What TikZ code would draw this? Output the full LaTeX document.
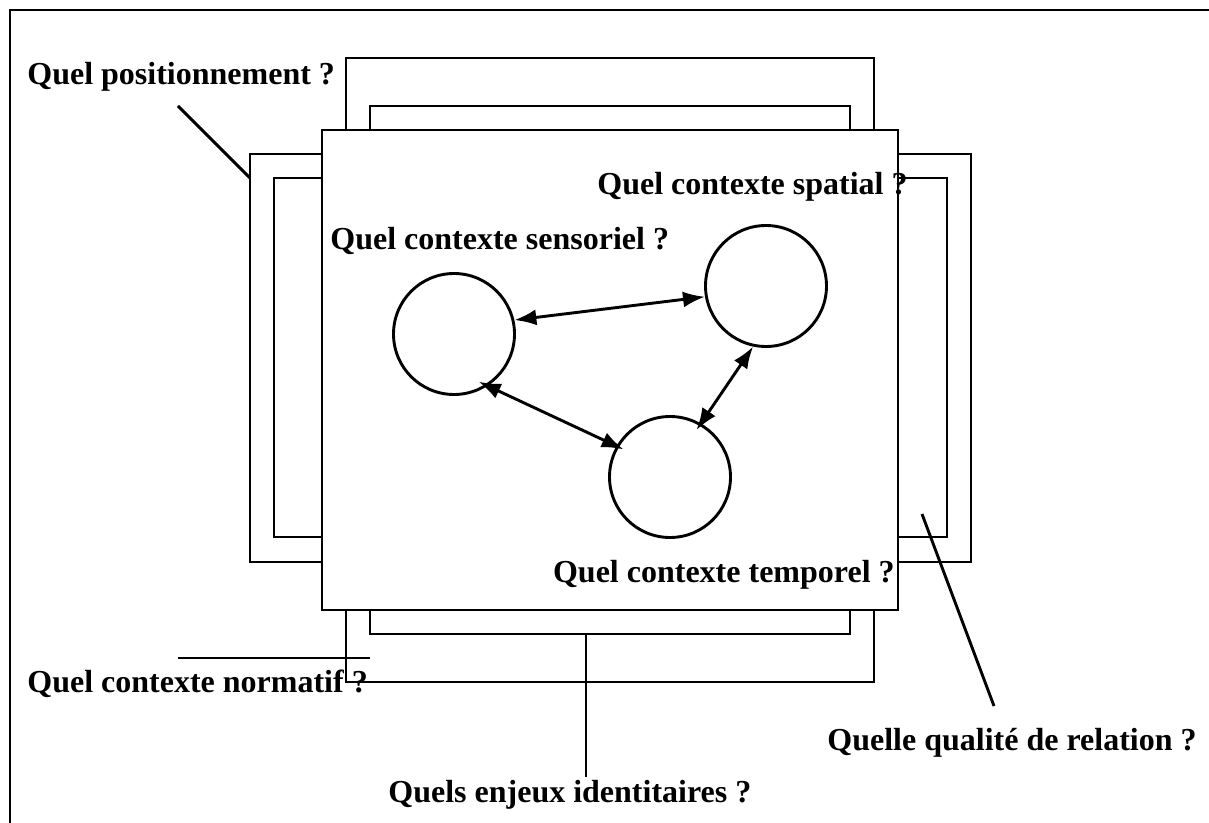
\documentclass[tikz,border=0pt]{standalone}
\usepackage{fontspec}
\setmainfont{Liberation Serif}
\usetikzlibrary{arrows.meta,calc}
\begin{document}
\begin{tikzpicture}[x=0.5pt,y=-0.5pt,
  line/.style={line width=1.45pt},
  lbl/.style={font=\bfseries\fontsize{16}{19}\selectfont, inner sep=0pt},
  ctx/.style={circle, draw, line width=1.45pt, minimum size=60.5pt, inner sep=0pt},
  dbl/.style={line width=1.45pt, {Latex[length=11pt,width=8pt]}-{Latex[length=11pt,width=8pt]}}]
\useasboundingbox (0,0) rectangle (1209,823);
% frame
\draw[line] (10,823) -- (10,10) -- (1209,10);
% frames behind the main square
\draw[line] (346,58) rectangle (874,682);
\draw[line] (370,106) rectangle (850,634);
\draw[line] (250,154) rectangle (971,562);
\draw[line] (274,178) rectangle (947,537);
% main square
\draw[line, fill=white] (322,130) rectangle (898,610);
% circles
\node[ctx] (L) at (454,334) {};
\node[ctx] (TR) at (766,286) {};
\node[ctx] (B) at (670,477) {};
% arrows
\draw[dbl] (L.13) -- (TR.190);
\draw[dbl, shorten <=-5pt, shorten >=-4pt] (L.-57) -- (B.150);
\draw[dbl, shorten >=-4pt] (TR.-102) -- (B.60);
% labels
\node[lbl, anchor=base west] (tpos) at (27,85) {Quel positionnement ?};
\node[lbl, anchor=base east] (tspa) at (908,195) {Quel contexte spatial ?};
\node[lbl, anchor=base west] (tsen) at (330,250) {Quel contexte sensoriel ?};
\node[lbl, anchor=base east] (ttem) at (895,582) {Quel contexte temporel ?};
\node[lbl, anchor=base west] (tnor) at (27,692) {Quel contexte normatif ?};
\node[lbl, anchor=base west] (tide) at (388,802) {Quels enjeux identitaires ?};
\node[lbl, anchor=base east] (trel) at (1197,750) {Quelle qualité de relation ?};
% leader lines
\coordinate (posA) at (178,106);
\coordinate (posB) at (250,178);
\coordinate (norA) at (178,658);
\coordinate (norB) at (370,658);
\coordinate (ideA) at (586,634);
\coordinate (ideB) at (586,777);
\coordinate (relA) at (922,514);
\coordinate (relB) at (994,706);
\draw[line] (posA) -- (posB);
\draw[line] (norA) -- (norB);
\draw[line] (ideA) -- (ideB);
\draw[line] (relA) -- (relB);
\end{tikzpicture}
\end{document}
